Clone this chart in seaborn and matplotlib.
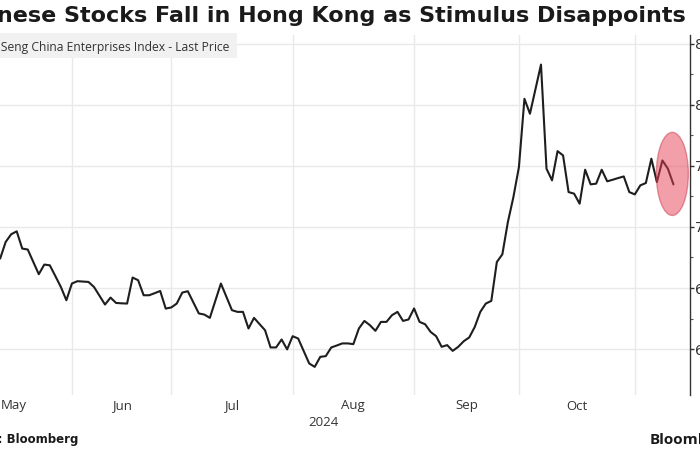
import numpy as np
import pandas as pd
import matplotlib
matplotlib.use("Agg")
import matplotlib.pyplot as plt
import seaborn as sns
from matplotlib.patches import Ellipse, Rectangle
from matplotlib.transforms import blended_transform_factory

# ---------------- data ----------------
title = "Chinese Stocks Fall in Hong Kong as Stimulus Disappoints"
series_name = "Hang Seng China Enterprises Index - Last Price"
source = "Source: Bloomberg"
brand = "Bloomberg"
year_label = "2024"
months = ["May", "Jun", "Jul", "Aug", "Sep", "Oct"]
# trading-day index at which each month starts (May, Jun, Jul, Aug, Sep, Oct, Nov)
month_starts = [-8, 13, 31, 53, 75, 94, 115]
y_ticks = [6000, 6500, 7000, 7500, 8000, 8500]

price = [
    6741, 6877, 6940, 6964, 6823, 6815, 6714, 6613, 6692, 6686,
    6598, 6509, 6400, 6537, 6556, 6553, 6550, 6509, 6437, 6365,
    6422, 6378, 6375, 6373, 6586, 6564, 6441, 6441, 6458, 6476,
    6332, 6341, 6373, 6463, 6474, 6383, 6292, 6283, 6256, 6397,
    6537, 6428, 6319, 6305, 6305, 6169, 6256, 6205, 6155, 6014,
    6014, 6079, 5998, 6106, 6087, 5985, 5883, 5855, 5937, 5943,
    6014, 6030, 6047, 6047, 6041, 6169, 6231, 6196, 6150, 6223,
    6223, 6278, 6305, 6231, 6243, 6333, 6223, 6204, 6141, 6106,
    6019, 6033, 5986, 6019, 6065, 6096, 6182, 6305, 6373, 6395,
    6713, 6776, 7040, 7244, 7489, 8048, 7926, 8127, 8328, 7476,
    7381, 7620, 7585, 7285, 7272, 7190, 7468, 7348, 7354, 7468,
    7373, 7386, 7400, 7413, 7285, 7266, 7340, 7359, 7558, 7367,
    7544, 7476, 7348,
]
day = list(range(len(price)))
df = pd.DataFrame({"day": day, "price": price})

# ---------------- style ----------------
sns.set_theme(style="white")
plt.rcParams["font.family"] = ["DejaVu Sans"]
W, H = 700, 450
fig = plt.figure(figsize=(7, 4.5), dpi=100)
fig.patch.set_facecolor("white")

def fx(px):
    return px / W

def fy(py):
    return 1 - py / H

ax = fig.add_axes([fx(-44), fy(395), 734 / W, 360 / H])
ax.set_facecolor("white")

sns.lineplot(data=df, x="day", y="price", ax=ax, color="#1e1e1e",
             linewidth=1.5, zorder=2)

ax.set_xlim(-8, 125)
ax.set_ylim(5625, 8570)

# grid
ax.set_yticks(y_ticks)
ax.set_yticks([v + 250 for v in y_ticks[:-1]], minor=True)
ax.set_yticklabels([f"{v:,}" for v in y_ticks])
ax.set_xticks(month_starts[1:])
ax.set_xticklabels([])
ax.grid(True, which="major", axis="both", color="#e9e9e9", linewidth=1.0, zorder=0)
ax.set_axisbelow(True)

ax.yaxis.tick_right()
ax.tick_params(axis="y", which="major", direction="out", length=3, width=1,
               color="#333333", labelsize=10, labelcolor="#333333", pad=0.5)
ax.tick_params(axis="y", which="minor", direction="out", length=2, width=0.8,
               color="#555555")
ax.tick_params(axis="x", which="major", direction="out", length=4, width=1,
               color="#e0e0e0")
for s in ["left", "top", "bottom"]:
    ax.spines[s].set_visible(False)
ax.spines["right"].set_color("#333333")
ax.spines["right"].set_linewidth(1.0)
ax.set_xlabel("")
ax.set_ylabel("")

# month labels centred in each month
tr = blended_transform_factory(ax.transData, fig.transFigure)
for i, m in enumerate(months):
    c = (month_starts[i] + month_starts[i + 1]) / 2
    ax.text(c, fy(406), m, transform=tr, ha="center", va="center",
            fontsize=9.5, color="#333333", family="Open Sans")
ax.text((month_starts[0] + 125) / 2, fy(423), year_label, transform=tr,
        ha="center", va="center", fontsize=9.5, color="#333333",
        family="Open Sans")

# highlight ellipse around the last sessions
ell = Ellipse((day[-1] - 0.2, np.mean(price[-4:])), width=5.8, height=680,
              facecolor="#e94155", alpha=0.5, edgecolor="#c83a4c",
              linewidth=1.0, zorder=3)
ax.add_patch(ell)

# title
fig.text(fx(686), fy(16), title, ha="right", va="center", fontsize=16,
         fontweight="bold", color="#1a1a1a")

# series label box
fig.patches.append(Rectangle((fx(-60), fy(58)), fx(297), 25 / H,
                             transform=fig.transFigure, facecolor="#f1f1f1",
                             edgecolor="none", zorder=1))
fig.text(fx(229), fy(47), series_name, ha="right", va="center", fontsize=8.7,
         color="#333333", family="Open Sans", zorder=3)

# footer
fig.text(fx(78), fy(440), source, ha="right", va="center", fontsize=8.5,
         fontweight="bold", color="#1a1a1a")
fig.text(fx(650), fy(440), brand, ha="left", va="center", fontsize=11,
         fontweight="bold", color="#1a1a1a", family="Open Sans")

fig.savefig("out.png", dpi=100)
